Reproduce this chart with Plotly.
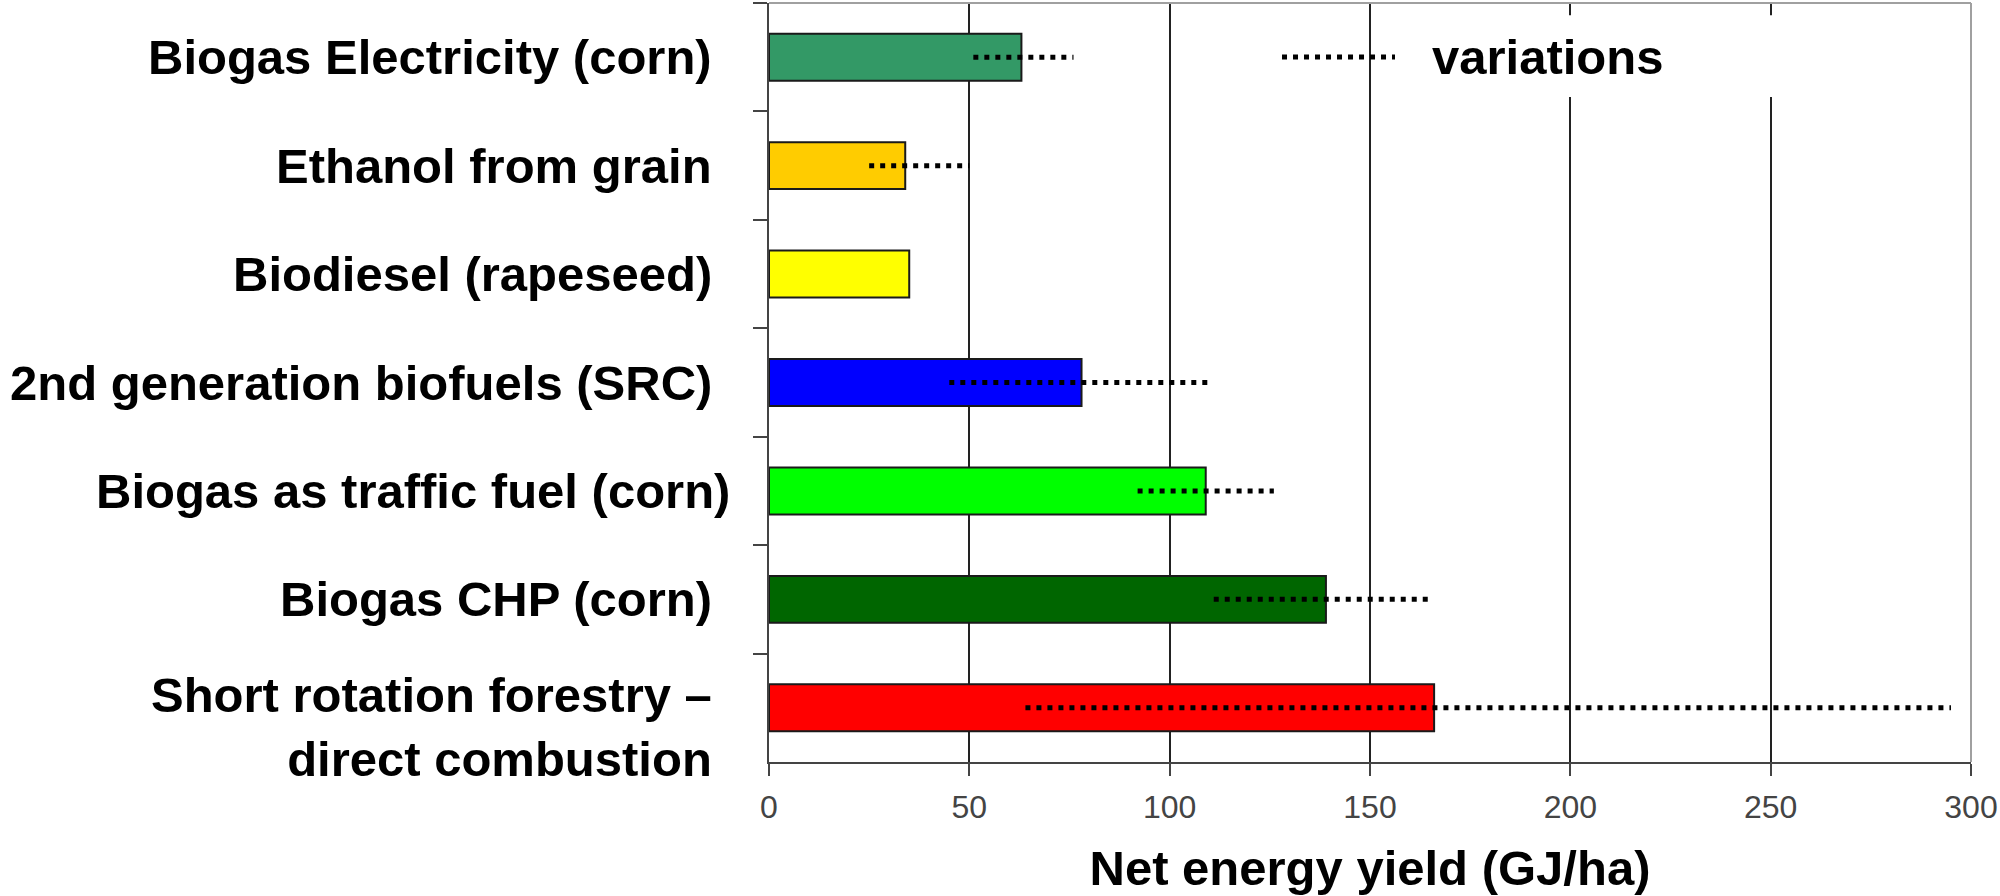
import plotly.graph_objects as go

# ---- data ----
categories = [
    "Biogas Electricity (corn)",
    "Ethanol from grain",
    "Biodiesel (rapeseed)",
    "2nd generation biofuels (SRC)",
    "Biogas as traffic fuel (corn)",
    "Biogas CHP (corn)",
    "Short rotation forestry –<br>direct combustion",
]
net_yield = [63, 34, 35, 78, 109, 139, 166]
var_low = [51, 25, None, 45, 92, 111, 64]
var_high = [76, 50, None, 110, 126, 165, 295]
bar_colors = ["#339966", "#FFCC00", "#FFFF00", "#0000FF", "#00FF00", "#006600", "#FF0000"]
x_ticks = [0, 50, 100, 150, 200, 250, 300]
legend_label = "variations"
x_title = "Net energy yield (GJ/ha)"

# ---- styling ----
FONT = "Liberation Sans, Arial, sans-serif"
DOT_DASH = "5px,6px"
LABEL_GAP = -55
# small per-label nudges (px) seen in the reference layout
label_nudge = {4: (18, 0), 6: (0, -19)}

fig = go.Figure()

fig.add_trace(go.Bar(
    y=categories,
    x=net_yield,
    orientation="h",
    marker=dict(color=bar_colors, line=dict(color="#1a1a1a", width=2)),
    showlegend=False,
    hoverinfo="x+y",
))

# variation ranges as dotted lines
vx, vy = [], []
for cat, lo, hi in zip(categories, var_low, var_high):
    if lo is None or hi is None:
        continue
    vx += [lo, hi, None]
    vy += [cat, cat, None]
fig.add_trace(go.Scatter(
    x=vx, y=vy, mode="lines",
    line=dict(color="#000000", width=5, dash=DOT_DASH),
    name=legend_label, showlegend=False, hoverinfo="skip",
))

fig.update_layout(
    width=2000, height=896,
    margin=dict(l=769, r=29, t=3, b=134),
    paper_bgcolor="white", plot_bgcolor="white",
    bargap=0.567,
    font=dict(family=FONT, color="#000000"),
    showlegend=False,
)

fig.update_xaxes(
    range=[0, 300],
    tickvals=x_ticks,
    ticktext=[str(v) for v in x_ticks],
    tickfont=dict(family=FONT, size=32, color="#444444"),
    ticks="outside", ticklen=12, tickwidth=2, tickcolor="#444444",
    ticklabelstandoff=4,
    showline=True, linecolor="#444444", linewidth=2,
    showgrid=True, gridcolor="#222222", gridwidth=2,
    zeroline=False,
    title=dict(text="<b>" + x_title + "</b>",
               font=dict(family=FONT, size=49, color="#000000"),
               standoff=26),
)

fig.update_yaxes(
    categoryorder="array", categoryarray=categories,
    autorange="reversed",
    tickson="boundaries",
    ticks="outside", ticklen=14, tickwidth=2, tickcolor="#444444",
    showline=True, linecolor="#444444", linewidth=2,
    showgrid=False, zeroline=False,
    showticklabels=False,
)

# category labels (right-aligned against the axis)
for i, cat in enumerate(categories):
    dx, dy = label_nudge.get(i, (0, 0))
    fig.add_annotation(
        xref="x domain", yref="y", x=0, y=cat,
        xanchor="right", yanchor="middle", align="right",
        xshift=LABEL_GAP + dx, yshift=dy, showarrow=False,
        text="<b>" + cat + "</b>",
        font=dict(family=FONT, size=49, color="#000000"),
    )

# plot frame (top and right) in light grey, over the 300 gridline
fig.add_shape(type="line", xref="x domain", yref="y domain",
              x0=0, x1=1, y0=1, y1=1, line=dict(color="#a0a0a0", width=2), layer="above")
fig.add_shape(type="line", xref="x domain", yref="y domain",
              x0=1, x1=1, y0=0, y1=1, line=dict(color="#a0a0a0", width=2), layer="above")

# legend box
fig.add_shape(type="rect", xref="x domain", yref="y domain",
              x0=0.533, x1=0.977, y0=0.876, y1=0.984,
              fillcolor="white", line=dict(width=0), layer="above")
fig.add_shape(type="line", xref="x domain", yref="y domain",
              x0=0.4268, x1=0.5208, y0=0.929, y1=0.929,
              line=dict(color="#000000", width=5, dash=DOT_DASH), layer="above")
fig.add_annotation(xref="x domain", yref="y domain", x=0.55, y=0.929,
                   xanchor="left", yanchor="middle", showarrow=False,
                   text="<b>" + legend_label + "</b>",
                   font=dict(family=FONT, size=49, color="#000000"))

fig.write_html("out.html", config={"displayModeBar": False},
               post_script="document.body.style.margin='0';")
